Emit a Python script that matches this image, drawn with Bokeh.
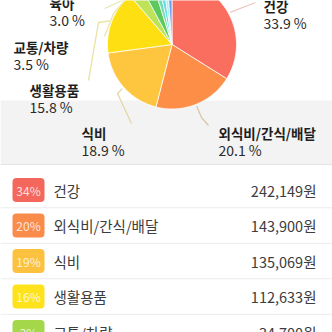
import math
from bokeh.plotting import figure
from bokeh.models import Range1d
from bokeh.core.properties import value
from bokeh.embed import file_html
from bokeh.resources import INLINE

# ---------------- data ----------------
pie_names = ["건강", "외식비/간식/배달", "식비", "생활용품", "교통/차량", "육아", "기타A", "기타B", "기타C", "기타D"]
pie_pcts = [33.9, 20.1, 18.9, 15.8, 3.5, 3.0, 1.4, 1.2, 1.0, 1.2]
pie_colors = ["#fa6e5f", "#fd8e48", "#fec63f", "#fee012", "#bde35a", "#5bc95d",
              "#74dcb5", "#5fd9e3", "#a9eef0", "#6c9ff0"]
pie_line_colors = ["#ebc8be", "#dcc6a8", "#e2d8a6", "#e6e2a0", "#e8e6ac", "#e6e8b2"]

list_names = ["건강", "외식비/간식/배달", "식비", "생활용품", "교통/차량"]
list_pcts = ["34%", "20%", "19%", "16%", "3%"]
list_amounts = ["242,149원", "143,900원", "135,069원", "112,633원", "34,700원"]
badge_colors = ["#f4675d", "#f98b4b", "#fcc23f", "#fde21c", "#a5d74b"]

# ---------------- layout ----------------
W = H = 332
CX, CY, R = 171.5, 44.0, 64.5
FONT = "Noto Sans CJK KR"

p = figure(width=W, height=H, x_range=Range1d(0, W), y_range=Range1d(H, 0),
           output_backend="svg", toolbar_location=None, min_border=0)
p.axis.visible = False
p.grid.visible = False
p.outline_line_color = None
p.background_fill_color = "white"
p.border_fill_color = "white"

# gray band behind lower pie labels
p.quad(left=[0], right=[W], top=[100], bottom=[164], fill_color="#f3f3f3", line_color=None)
p.segment(x0=[0], y0=[164], x1=[W], y1=[164], line_color="#e4e4e4", line_width=1)

# ---------------- pie ----------------
total = sum(pie_pcts)
def pt(theta_deg, r):
    t = math.radians(theta_deg)
    return CX + r * math.sin(t), CY - r * math.cos(t)

xs, ys, mids = [], [], []
acc = 0.0
for v in pie_pcts:
    a0 = acc / total * 360.0
    acc += v
    a1 = acc / total * 360.0
    n = max(3, int((a1 - a0) / 2) + 2)
    px, py = [CX], [CY]
    for i in range(n + 1):
        x, y = pt(a0 + (a1 - a0) * i / n, R)
        px.append(x); py.append(y)
    xs.append(px); ys.append(py)
    mids.append((a0 + a1) / 2)

p.patches(xs=xs, ys=ys, fill_color=pie_colors, line_color="white", line_alpha=0.75, line_width=1)

# labels for first six slices
label_pos = [(263, 5), (218, 132), (81, 132), (29, 89), (13, 46), (49, 2)]
line_ends = [
    [(255, 2)],
    [(201, 117), (208, 125)],
    [(117, 93), (131, 123)],
    [(98, 22), (88, 80)],
    [(113, 13), (104, 36)],
    [(122, 0), (104, 8)],
]
lxs, lys = [], []
for i in range(6):
    sx, sy = pt(mids[i], R + 2)
    lx = [sx] + [e[0] for e in line_ends[i]]
    ly = [sy] + [e[1] for e in line_ends[i]]
    lxs.append(lx); lys.append(ly)
p.multi_line(xs=lxs, ys=lys, line_color=pie_line_colors, line_width=1.3)

p.text(x=[lp[0] for lp in label_pos], y=[lp[1] for lp in label_pos], text=pie_names[:6],
       text_font=value(FONT), text_font_style="bold", text_font_size="13.5px",
       text_color="#1e1e1e", text_baseline="middle", text_align="left")
p.text(x=[lp[0] for lp in label_pos], y=[lp[1] + 17 for lp in label_pos],
       text=[f"{v:.1f} %" for v in pie_pcts[:6]],
       text_font=value(FONT), text_font_size="14px",
       text_color="#2a2a2a", text_baseline="middle", text_align="left")

# ---------------- list ----------------
ROW0, ROWH = 189.5, 35.5
row_y = [ROW0 + i * ROWH for i in range(len(list_names))]
sep_y = [y + ROWH / 2 for y in row_y[:-1]]
p.segment(x0=[0] * len(sep_y), y0=sep_y, x1=[W] * len(sep_y), y1=sep_y,
          line_color="#ececec", line_width=1)

p.quad(left=[12] * len(row_y), right=[44] * len(row_y),
       top=[y - 12 for y in row_y], bottom=[y + 12 for y in row_y],
       fill_color=badge_colors, line_color=None, border_radius=4)
p.text(x=[28] * len(row_y), y=row_y, text=list_pcts,
       text_font=value(FONT), text_font_size="12px", text_color="white", text_alpha=0.8,
       text_align="center", text_baseline="middle")
p.text(x=[53] * len(row_y), y=row_y, text=list_names,
       text_font=value(FONT), text_font_size="14.5px", text_color="#3c3c3c",
       text_align="left", text_baseline="middle")
p.text(x=[316] * len(row_y), y=row_y, text=list_amounts,
       text_font=value(FONT), text_font_size="14.5px", text_color="#3c3c3c",
       text_align="right", text_baseline="middle")

open("out.html", "w").write(file_html(p, INLINE))
